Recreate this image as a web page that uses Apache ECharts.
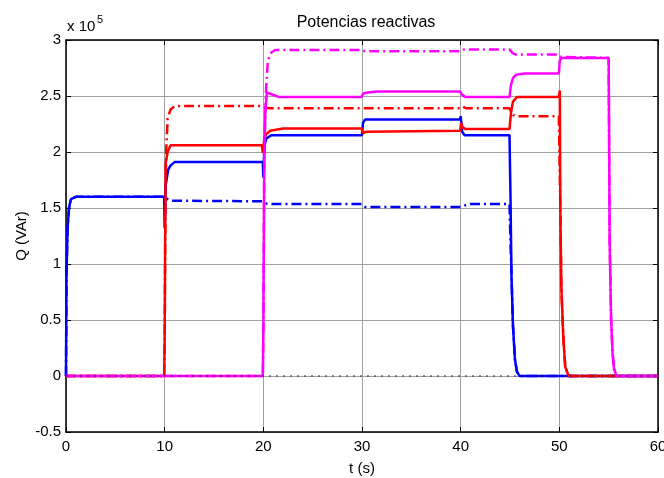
<!DOCTYPE html>
<html>
<head>
<meta charset="utf-8">
<script src="https://cdn.jsdelivr.net/npm/echarts@6/dist/echarts.min.js"></script>
<style>html,body{margin:0;padding:0;background:#fff}#c{width:664px;height:478px}</style>
</head>
<body>
<div id="c"></div>
<script>
// ---- data (Q in units of 1e5 VAr) ----
const xTicks = [0, 10, 20, 30, 40, 50, 60];
const yTicks = [-0.5, 0, 0.5, 1, 1.5, 2, 2.5, 3];

const blueT = [0, 0.05, 0.15, 0.3, 0.5, 1.0, 9.95, 10.0, 10.1, 10.35, 10.6, 11.0, 19.95, 20.0, 20.1, 20.3, 20.8, 30.0, 30.1, 30.3, 39.95, 40.0, 40.15, 40.4, 44.95, 45.05, 45.15, 45.3, 45.5, 45.7, 45.95, 60];
const blueQ = [0, 0.9, 1.3, 1.5, 1.58, 1.6, 1.6, 1.32, 1.7, 1.84, 1.88, 1.91, 1.91, 1.77, 2.05, 2.12, 2.15, 2.15, 2.26, 2.29, 2.29, 2.32, 2.18, 2.15, 2.15, 1.6, 0.9, 0.45, 0.15, 0.04, 0, 0];

const blueDT = [0, 0.05, 0.15, 0.3, 0.5, 1.0, 10.0, 10.3, 10.7, 19.95, 20.3, 20.7, 29.95, 30.3, 40.0, 40.5, 41.0, 44.95, 45.05, 45.15, 45.3, 45.5, 45.7, 45.95, 60];
const blueDQ = [0, 0.9, 1.3, 1.5, 1.58, 1.6, 1.6, 1.58, 1.565, 1.56, 1.54, 1.535, 1.535, 1.51, 1.51, 1.525, 1.535, 1.535, 1.2, 0.9, 0.45, 0.15, 0.04, 0, 0];

const redT = [0, 9.95, 10.0, 10.05, 10.1, 10.3, 10.6, 19.85, 19.95, 20.1, 20.3, 20.7, 22.0, 29.95, 30.1, 30.4, 39.95, 40.05, 40.2, 40.5, 44.95, 45.1, 45.3, 45.7, 49.95, 50.05, 50.1, 50.2, 50.4, 50.6, 50.95, 60];
const redQ = [0, 0, 0.3, 1.2, 1.9, 2.0, 2.06, 2.06, 1.99, 2.12, 2.16, 2.19, 2.21, 2.21, 2.17, 2.18, 2.19, 2.26, 2.22, 2.205, 2.205, 2.35, 2.45, 2.49, 2.49, 2.55, 1.5, 0.8, 0.35, 0.08, 0, 0];

const redDT = [0, 9.95, 10.0, 10.05, 10.15, 10.3, 10.6, 11.0, 19.95, 20.3, 20.7, 39.95, 40.2, 40.6, 44.95, 45.1, 45.3, 45.6, 49.95, 50.05, 50.1, 50.2, 50.4, 50.6, 50.95, 60];
const redDQ = [0, 0, 0.3, 1.2, 2.0, 2.3, 2.38, 2.41, 2.41, 2.395, 2.39, 2.39, 2.405, 2.39, 2.39, 2.36, 2.33, 2.32, 2.32, 2.32, 1.5, 0.8, 0.35, 0.08, 0, 0];

const magT = [0, 19.95, 20.0, 20.05, 20.1, 20.2, 20.35, 20.7, 21.6, 29.95, 30.1, 30.4, 31.5, 39.95, 40.15, 40.5, 44.95, 45.1, 45.3, 45.6, 46.5, 49.95, 50.05, 50.3, 55.0, 55.1, 55.25, 55.4, 55.55, 55.8, 60];
const magQ = [0, 0, 0.4, 1.2, 2.0, 2.35, 2.53, 2.52, 2.49, 2.49, 2.52, 2.53, 2.54, 2.54, 2.51, 2.49, 2.49, 2.6, 2.66, 2.69, 2.70, 2.70, 2.82, 2.84, 2.84, 1.2, 0.5, 0.2, 0.06, 0, 0];

const magDT = [0, 19.95, 20.0, 20.05, 20.1, 20.2, 20.3, 20.45, 20.7, 21.2, 29.95, 30.3, 39.95, 40.3, 44.95, 45.3, 45.6, 49.9, 50.1, 50.3, 55.0, 55.1, 55.25, 55.4, 55.55, 55.8, 60];
const magDQ = [0, 0, 0.4, 1.2, 2.0, 2.35, 2.6, 2.8, 2.88, 2.91, 2.91, 2.90, 2.90, 2.915, 2.915, 2.88, 2.87, 2.87, 2.85, 2.84, 2.84, 1.2, 0.5, 0.2, 0.06, 0, 0];

const zeroT = [0, 60];
const zeroQ = [0, 0];

// ---- build ----
const zip = (t, q) => t.map((v, i) => [v, q[i]]);
const FONT = 'Liberation Sans, Arial, sans-serif';
const DASHDOT = [10, 4, 2, 4];

function line(name, t, q, color, dashed, z) {
  return {
    name, type: 'line', data: zip(t, q), showSymbol: false, symbol: 'none',
    xAxisIndex: 0, yAxisIndex: 0, z: z,
    lineStyle: { color, width: 2.5, type: dashed ? DASHDOT : 'solid' },
    clip: true
  };
}

const chart = echarts.init(document.getElementById('c'), null, { renderer: 'canvas' });
const gridLine = { show: true, lineStyle: { color: '#a0a0a0', width: 1 } };
chart.setOption({
  animation: false,
  backgroundColor: '#fff',
  title: {
    text: 'Potencias reactivas', left: 361, top: 10, textAlign: 'center',
    textStyle: { fontFamily: FONT, fontSize: 16, fontWeight: 'normal', color: '#000' }
  },
  graphic: [
    { type: 'text', left: 67, top: 19, style: { text: 'x 10', font: '15px ' + FONT, fill: '#000' } },
    { type: 'text', left: 97, top: 14, style: { text: '5', font: '11px ' + FONT, fill: '#000' } }
  ],
  grid: { left: 66, right: 6, top: 40, bottom: 46, containLabel: false, outerBoundsMode: 'none' },
  xAxis: [
    {
      type: 'value', min: xTicks[0], max: xTicks[xTicks.length - 1], interval: 10,
      name: 't (s)', nameLocation: 'middle', nameGap: 29, nameMoveOverlap: false,
      nameTextStyle: { fontFamily: FONT, fontSize: 15, color: '#000' },
      axisLine: { show: true, onZero: false, lineStyle: { color: '#000', width: 1.5 } },
      axisTick: { show: true, inside: true, length: 5, lineStyle: { color: '#000' } },
      axisLabel: { fontFamily: FONT, fontSize: 15, color: '#000', margin: 7, hideOverlap: false },
      splitLine: gridLine
    },
    {
      type: 'value', position: 'top', min: 0, max: 60, interval: 10,
      axisLine: { show: true, onZero: false, lineStyle: { color: '#000', width: 1.5 } },
      axisTick: { show: true, inside: true, length: 5, lineStyle: { color: '#000' } },
      axisLabel: { show: false }, splitLine: { show: false }
    }
  ],
  yAxis: [
    {
      type: 'value', min: yTicks[0], max: yTicks[yTicks.length - 1], interval: 0.5,
      name: 'Q (VAr)', nameLocation: 'middle', nameGap: 37, nameRotate: 90, nameMoveOverlap: false,
      nameTextStyle: { fontFamily: FONT, fontSize: 15, color: '#000' },
      axisLine: { show: true, onZero: false, lineStyle: { color: '#000', width: 1.5 } },
      axisTick: { show: true, inside: true, length: 5, lineStyle: { color: '#000' } },
      axisLabel: { fontFamily: FONT, fontSize: 15, color: '#000', margin: 5, formatter: v => String(v) },
      splitLine: gridLine
    },
    {
      type: 'value', position: 'right', min: -0.5, max: 3, interval: 0.5,
      axisLine: { show: true, onZero: false, lineStyle: { color: '#000', width: 1.5 } },
      axisTick: { show: true, inside: true, length: 5, lineStyle: { color: '#000' } },
      axisLabel: { show: false }, splitLine: { show: false }
    }
  ],
  series: [
    line('Q1 ref', blueDT, blueDQ, '#0000ff', true, 2),
    line('Q2 ref', redDT, redDQ, '#ff0000', true, 2),
    line('Q3 ref', magDT, magDQ, '#ff00ff', true, 2),
    line('Q1', blueT, blueQ, '#0000ff', false, 3),
    line('Q2', redT, redQ, '#ff0000', false, 3),
    line('Q3', magT, magQ, '#ff00ff', false, 3),
    {
      name: 'zero', type: 'line', data: zip(zeroT, zeroQ), showSymbol: false, symbol: 'none', z: 4,
      lineStyle: { color: '#222', width: 1, type: [2, 5] }
    }
  ]
});
</script>
</body>
</html>
